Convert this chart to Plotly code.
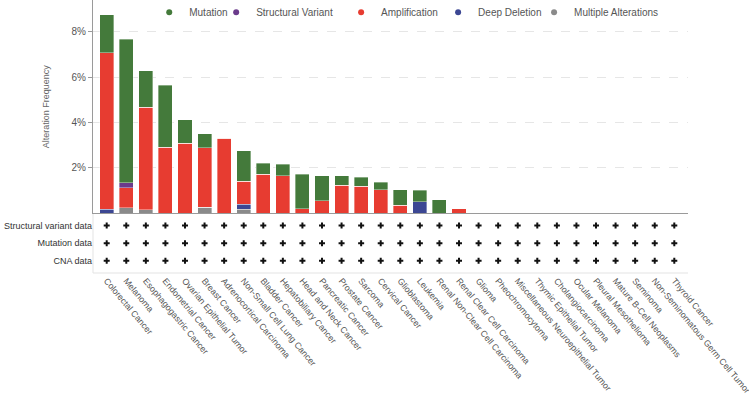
import plotly.graph_objects as go
from plotly.subplots import make_subplots

categories = [
    "Colorectal Cancer", "Melanoma", "Esophagogastric Cancer", "Endometrial Cancer",
    "Ovarian Epithelial Tumor", "Breast Cancer", "Adrenocortical Carcinoma",
    "Non-Small Cell Lung Cancer", "Bladder Cancer", "Hepatobiliary Cancer",
    "Head and Neck Cancer", "Pancreatic Cancer", "Prostate Cancer", "Sarcoma",
    "Cervical Cancer", "Glioblastoma", "Leukemia", "Renal Non-Clear Cell Carcinoma",
    "Renal Clear Cell Carcinoma", "Glioma", "Pheochromocytoma",
    "Miscellaneous Neuroepithelial Tumor", "Thymic Epithelial Tumor",
    "Cholangiocarcinoma", "Ocular Melanoma", "Pleural Mesothelioma",
    "Mature B-Cell Neoplasms", "Seminoma", "Non-Seminomatous Germ Cell Tumor",
    "Thyroid Cancer",
]

multiple_alterations = [0, 0.25, 0.16, 0, 0, 0.26, 0, 0.18, 0, 0, 0, 0, 0, 0, 0, 0, 0, 0, 0,
                        0, 0, 0, 0, 0, 0, 0, 0, 0, 0, 0]
deep_deletion = [0.18, 0, 0, 0, 0, 0, 0, 0.22, 0, 0, 0, 0, 0, 0, 0, 0, 0.51, 0, 0,
                 0, 0, 0, 0, 0, 0, 0, 0, 0, 0, 0]
amplification = [6.90, 0.88, 4.51, 2.91, 3.09, 2.62, 3.31, 1.02, 1.73, 1.65, 0.20, 0.56, 1.24,
                 1.19, 1.03, 0.35, 0, 0, 0.20, 0, 0, 0, 0, 0, 0, 0, 0, 0, 0, 0]
structural_variant = [0, 0.22, 0, 0, 0, 0, 0, 0, 0, 0, 0, 0, 0, 0, 0, 0, 0, 0, 0,
                      0, 0, 0, 0, 0, 0, 0, 0, 0, 0, 0]
mutation = [1.68, 6.33, 1.62, 2.74, 1.04, 0.63, 0, 1.34, 0.47, 0.51, 1.53, 1.09, 0.41, 0.40,
            0.34, 0.68, 0.50, 0.59, 0, 0, 0, 0, 0, 0, 0, 0, 0, 0, 0, 0]

profile_rows = ["CNA data", "Mutation data", "Structural variant data"]
profiled = {row: categories for row in profile_rows}

y_ticks = [2, 4, 6, 8]
y_tick_labels = ["2%", "4%", "6%", "8%"]

legend_order = ["Mutation", "Structural Variant", "Amplification", "Deep Deletion",
                "Multiple Alterations"]

colors = {
    "Mutation": "#447a3b",
    "Structural Variant": "#6b3b8b",
    "Amplification": "#e73c31",
    "Deep Deletion": "#3c4793",
    "Multiple Alterations": "#8a8a8a",
}

FONT = "Liberation Sans, Arial, sans-serif"
PANEL_SPLIT = 0.2187

fig = make_subplots(rows=2, cols=1, shared_xaxes=True, vertical_spacing=0,
                    row_heights=[1 - PANEL_SPLIT, PANEL_SPLIT])

stack = [
    ("Multiple Alterations", multiple_alterations),
    ("Deep Deletion", deep_deletion),
    ("Amplification", amplification),
    ("Structural Variant", structural_variant),
    ("Mutation", mutation),
]
for name, vals in stack:
    fig.add_trace(go.Bar(x=categories, y=vals, name=name, marker_color=colors[name],
                         marker_line_width=0.6, marker_line_color="rgba(255,255,255,0.6)",
                         showlegend=False), row=1, col=1)

# one legend per entry so that each entry can sit where the reference puts it
legend_x = [0.0945, 0.2070, 0.4170, 0.5800, 0.7413]
legend_layout = {}
for i, name in enumerate(legend_order):
    key = "legend" if i == 0 else f"legend{i + 1}"
    fig.add_trace(go.Scatter(x=[None], y=[None], mode="markers", name=name,
                             marker=dict(color=colors[name], size=6, symbol="circle"),
                             legend=key, showlegend=True), row=1, col=1)
    legend_layout[key] = dict(orientation="h", x=legend_x[i], xanchor="left",
                              y=1.008, yanchor="top", bgcolor="rgba(0,0,0,0)",
                              font=dict(size=10, color="#555555"), itemsizing="trace")

for row in profile_rows:
    xs = profiled[row]
    fig.add_trace(go.Scatter(x=xs, y=[row] * len(xs), mode="markers",
                             marker=dict(symbol="cross", size=5, color="#111111"),
                             showlegend=False), row=2, col=1)

# light frame (left and bottom) of the data-availability panel, in paper coordinates
frame = dict(type="line", xref="paper", yref="paper",
             line=dict(color="#e3e3e3", width=1), layer="below")
fig.add_shape(x0=0, x1=0, y0=0, y1=PANEL_SPLIT, **frame)
fig.add_shape(x0=0, x1=1, y0=0, y1=0, **frame)

fig.update_layout(
    width=749, height=394,
    margin=dict(l=93, r=61, t=0, b=121, autoexpand=False),
    barmode="stack", bargap=0.28,
    plot_bgcolor="white", paper_bgcolor="white",
    font=dict(family=FONT, size=10, color="#555555"),
    **legend_layout,
)

fig.update_xaxes(range=[-0.7, 29.7], showgrid=False, zeroline=False, automargin=False,
                 showspikes=False)
fig.update_xaxes(row=1, col=1, showticklabels=False, showline=True, linecolor="#9a9a9a",
                 linewidth=1, ticks="")
fig.update_xaxes(row=2, col=1, showline=False, ticks="",
                 tickangle=50, tickfont=dict(size=8.8, color="#555555"),
                 categoryorder="array", categoryarray=categories)

fig.update_yaxes(row=1, col=1, range=[0, 9.4], tickvals=y_ticks, ticktext=y_tick_labels,
                 showgrid=True, gridcolor="#e6e6e6", griddash="dash", gridwidth=1,
                 zeroline=False, showline=True, linecolor="#9a9a9a", linewidth=1,
                 ticks="outside", ticklen=4, tickcolor="#9a9a9a", automargin=False,
                 tickfont=dict(size=10, color="#555555"),
                 title=dict(text="Alteration Frequency", font=dict(size=9, color="#666666"),
                            standoff=20))
fig.update_yaxes(row=2, col=1, type="category", categoryorder="array",
                 categoryarray=profile_rows, range=[-0.7, 2.7], showgrid=False,
                 zeroline=False, showline=False, ticks="", automargin=False,
                 tickfont=dict(size=9, color="#333333"))

fig.write_html("out.html", config={"displayModeBar": False, "staticPlot": True},
               post_script="document.body.style.margin='0px';")
